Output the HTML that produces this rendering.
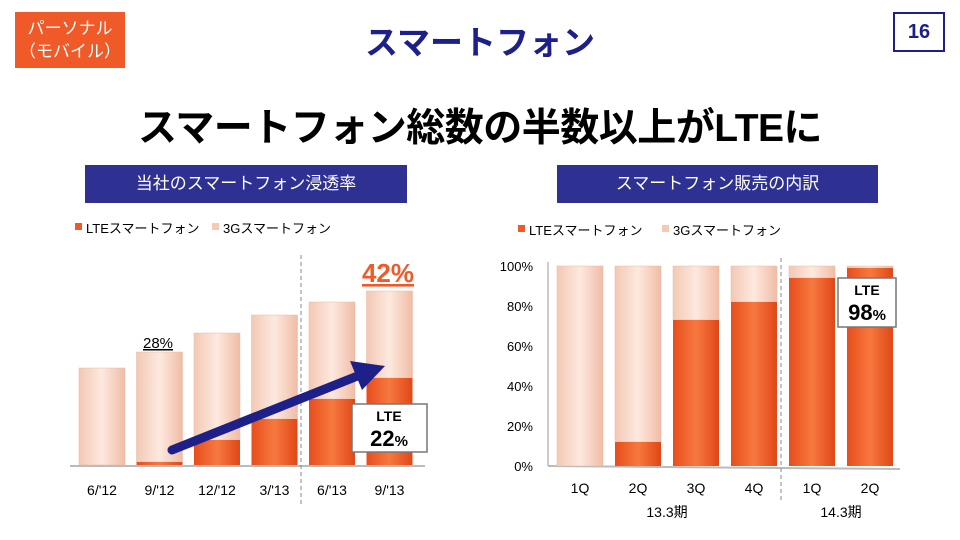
<!DOCTYPE html>
<html><head><meta charset="utf-8">
<style>
body{margin:0;width:960px;height:540px;background:#fff;font-family:"Liberation Sans","Noto Sans CJK JP",sans-serif;overflow:hidden;position:relative}
.abs{position:absolute}
</style></head>
<body>
<div class="abs" style="left:15px;top:12px;width:110px;height:56px;background:#f05a28;color:#fff;font-size:17px;line-height:23px;text-align:center;padding-top:5px;box-sizing:border-box">パーソナル<br>（モバイル）</div>
<div class="abs" style="left:280px;top:16px;width:400px;text-align:center;font-size:33px;font-weight:bold;color:#1d2088">スマートフォン</div>
<div class="abs" style="left:893px;top:12px;width:52px;height:40px;border:2px solid #1d2088;box-sizing:border-box;text-align:center;font-size:20px;font-weight:bold;line-height:36px;color:#1d2088">16</div>
<div class="abs" style="left:0;top:97px;width:960px;text-align:center;font-size:39px;font-weight:bold;color:#000;letter-spacing:-0.5px">スマートフォン総数の半数以上がLTEに</div>
<div class="abs" style="left:85px;top:165px;width:322px;height:38px;background:#2e3192;color:#fff;font-size:17px;line-height:38px;text-align:center">当社のスマートフォン浸透率</div>
<div class="abs" style="left:557px;top:165px;width:321px;height:38px;background:#2e3192;color:#fff;font-size:17px;line-height:38px;text-align:center">スマートフォン販売の内訳</div>

<svg class="abs" style="left:0;top:0" width="960" height="540" id="svg">
<defs>
<linearGradient id="g3" x1="0" x2="1"><stop offset="0" stop-color="#f3c8b4"/><stop offset="0.5" stop-color="#fde9df"/><stop offset="1" stop-color="#f0bca6"/></linearGradient>
<linearGradient id="gl" x1="0" x2="1"><stop offset="0" stop-color="#e84d1c"/><stop offset="0.5" stop-color="#f6793f"/><stop offset="1" stop-color="#e04716"/></linearGradient>
</defs>
</svg>
<script>
const leftCats=["6/'12","9/'12","12/'12","3/'13","6/'13","9/'13"];
const leftTotal=[97,113,132,150,163,174];
const leftLTE=[0,3,25,46,66,87];
const rightCats=["1Q","2Q","3Q","4Q","1Q","2Q"];
const rightLTE=[0,12,73,82,94,99];
const rightTotal=[100,100,100,100,100,100];
const rightTicks=[0,20,40,60,80,100];
const NS="http://www.w3.org/2000/svg";
const svg=document.getElementById('svg');
function mk(t,a,txt){const e=document.createElementNS(NS,t);for(const k in a)e.setAttribute(k,a[k]);if(txt!=null)e.textContent=txt;svg.appendChild(e);return e;}
const lBase=465, lx=i=>102+i*57.5, ly=v=>lBase-v;
let e=mk('line',{x1:70,y1:lBase+1,x2:425,y2:lBase+1,stroke:'#bbb','stroke-width':2});


e=mk('line',{x1:301,y1:255,x2:301,y2:505,stroke:'#888','stroke-dasharray':'4,3'});


leftCats.forEach((c,i)=>{
 const x=lx(i)-23;
 let r=mk('rect',{x:x,y:ly(leftTotal[i]),width:46,height:leftTotal[i]-leftLTE[i],fill:'url(#g3)',stroke:'#e8b9a4','stroke-width':0.5});
 
 
 if(leftLTE[i]>0){r=mk('rect',{x:x,y:ly(leftLTE[i]),width:46,height:leftLTE[i],fill:'url(#gl)'});
 
 }
 const t=mk('text',{x:lx(i),y:495,'text-anchor':'middle','font-size':14,fill:'#000'},c);
 
 
});
const rBase=466, rx=i=>580+i*58, ry=v=>rBase-v*2;
e=mk('line',{x1:548,y1:262,x2:548,y2:rBase,stroke:'#bbb','stroke-width':1.5});


e=mk('line',{x1:548,y1:rBase,x2:900,y2:rBase+3,stroke:'#bbb','stroke-width':2});


e=mk('line',{x1:781,y1:258,x2:781,y2:500,stroke:'#888','stroke-dasharray':'4,3'});


rightTicks.forEach(v=>{const t=mk('text',{x:533,y:ry(v)+5,'text-anchor':'end','font-size':13,fill:'#000'},v+'%');
 
 });
rightCats.forEach((c,i)=>{
 const x=rx(i)-23;
 let r=mk('rect',{x:x,y:ry(rightTotal[i]),width:46,height:(rightTotal[i]-rightLTE[i])*2,fill:'url(#g3)',stroke:'#e8b9a4','stroke-width':0.5});
 
 
 if(rightLTE[i]>0){r=mk('rect',{x:x,y:ry(rightLTE[i]),width:46,height:rightLTE[i]*2,fill:'url(#gl)'});
 
 }
 const t=mk('text',{x:rx(i),y:493,'text-anchor':'middle','font-size':14,fill:'#000'},c);
 
 
});
</script>
<svg class="abs" style="left:0;top:0" width="960" height="540">
<line x1="172" y1="450" x2="360" y2="375" stroke="#1d2088" stroke-width="9" stroke-linecap="round"/>
<polygon points="385,366 350,361 362,390" fill="#1d2088"/>
<g font-size="13" fill="#000">
<rect x="75" y="223" width="7" height="7" fill="#f05a28"/><text x="86" y="233">LTEスマートフォン</text>
<rect x="212" y="223" width="7" height="7" fill="#f5c9b5"/><text x="223" y="233">3Gスマートフォン</text>
<rect x="518" y="225" width="7" height="7" fill="#f05a28"/><text x="529" y="235">LTEスマートフォン</text>
<rect x="662" y="225" width="7" height="7" fill="#f5c9b5"/><text x="673" y="235">3Gスマートフォン</text>
</g>
<text x="158" y="348" text-anchor="middle" font-size="15" text-decoration="underline">28%</text>
<text x="388" y="282" text-anchor="middle" font-size="26" font-weight="bold" fill="#f05a28" text-decoration="underline">42%</text>
<g>
<rect x="352" y="404" width="75" height="48" fill="#fff" stroke="#777" stroke-width="1.5"/>
<text x="389" y="421" text-anchor="middle" font-size="14" font-weight="bold">LTE</text>
<text x="389" y="446" text-anchor="middle" font-size="22" font-weight="bold">22<tspan font-size="15">%</tspan></text>
</g>
<g>
<rect x="838" y="278" width="58" height="49" fill="#fff" stroke="#777" stroke-width="1.5"/>
<text x="867" y="295" text-anchor="middle" font-size="14" font-weight="bold">LTE</text>
<text x="867" y="320" text-anchor="middle" font-size="22" font-weight="bold">98<tspan font-size="15">%</tspan></text>
</g>
<text x="667" y="517" text-anchor="middle" font-size="14">13.3期</text>
<text x="841" y="517" text-anchor="middle" font-size="14">14.3期</text>
</svg>
</body></html>
